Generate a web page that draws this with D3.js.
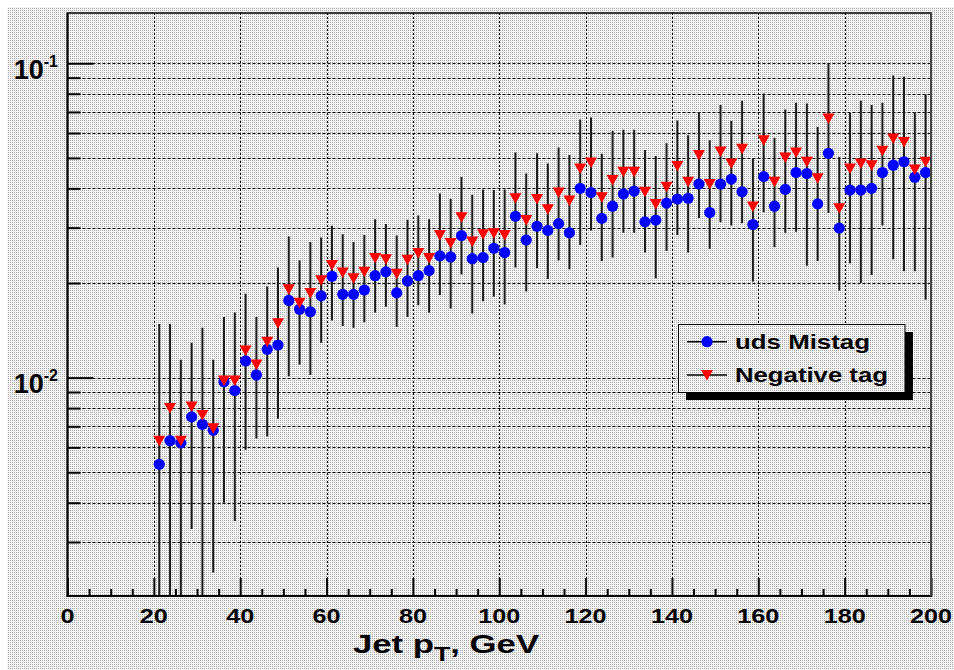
<!DOCTYPE html>
<html><head><meta charset="utf-8">
<script src="https://cdn.jsdelivr.net/npm/d3@7"></script>
<style>body{margin:0;background:#fff}text{font-family:"Liberation Sans",Arial,Helvetica,sans-serif;font-weight:bold}</style>
</head><body>
<svg id="c" width="954" height="670"></svg>
<script>
// ---- data ----
const ptBins = [21.25,23.75,26.25,28.75,31.25,33.75,36.25,38.75,41.25,43.75,46.25,48.75,
  51.25,53.75,56.25,58.75,61.25,63.75,66.25,68.75,71.25,73.75,76.25,78.75,
  81.25,83.75,86.25,88.75,91.25,93.75,96.25,98.75,101.25,103.75,106.25,108.75,
  111.25,113.75,116.25,118.75,121.25,123.75,126.25,128.75,131.25,133.75,136.25,138.75,
  141.25,143.75,146.25,148.75,151.25,153.75,156.25,158.75,161.25,163.75,166.25,168.75,
  171.25,173.75,176.25,178.75,181.25,183.75,186.25,188.75,191.25,193.75,196.25,198.75];
const udsMistag = [0.0053,0.0063,0.0062,0.0075,0.0071,0.0068,0.0097,0.0091,0.0113,0.0102,0.0123,0.0127,
  0.0176,0.0165,0.0162,0.0182,0.0210,0.0184,0.0184,0.0190,0.0211,0.0217,0.0186,0.0203,
  0.0211,0.0219,0.0244,0.0242,0.0283,0.0239,0.0241,0.0258,0.0250,0.0326,0.0274,0.0303,
  0.0294,0.0309,0.0289,0.0400,0.0388,0.0321,0.0351,0.0384,0.0392,0.0313,0.0317,0.0359,
  0.0370,0.0372,0.0413,0.0335,0.0413,0.0428,0.0390,0.0307,0.0436,0.0351,0.0397,0.0449,
  0.0446,0.0357,0.0517,0.0299,0.0395,0.0395,0.0400,0.0449,0.0474,0.0486,0.0434,0.0449];
const negativeTag = [0.0063,0.0080,0.0063,0.0081,0.0076,0.0069,0.0098,0.0098,0.0122,0.0110,0.0130,0.0149,
  0.0191,0.0173,0.0186,0.0204,0.0228,0.0216,0.0207,0.0217,0.0240,0.0238,0.0214,0.0237,
  0.0249,0.0240,0.0284,0.0268,0.0324,0.0271,0.0286,0.0288,0.0284,0.0372,0.0317,0.0370,
  0.0343,0.0388,0.0366,0.0463,0.0483,0.0375,0.0425,0.0452,0.0452,0.0390,0.0357,0.0405,
  0.0471,0.0420,0.0511,0.0413,0.0524,0.0480,0.0535,0.0350,0.0569,0.0420,0.0501,0.0520,
  0.0486,0.0431,0.0667,0.0346,0.0463,0.0480,0.0474,0.0527,0.0576,0.0562,0.0459,0.0486];
const negativeTagErr = [0.0085,0.0068,0.0051,0.0048,0.0068,0.0045,0.0058,0.0063,0.0063,0.0046,0.0065,0.0075,
  0.0090,0.0063,0.0084,0.0075,0.0076,0.0070,0.0063,0.0067,0.0079,0.0070,0.0069,0.0081,
  0.0079,0.0079,0.0101,0.0102,0.0111,0.0111,0.0111,0.0107,0.0113,0.0148,0.0129,0.0147,
  0.0137,0.0152,0.0145,0.0199,0.0189,0.0140,0.0184,0.0163,0.0163,0.0140,0.0150,0.0152,
  0.0187,0.0170,0.0189,0.0156,0.0212,0.0175,0.0225,0.0148,0.0233,0.0160,0.0212,0.0229,
  0.0259,0.0196,0.0333,0.0157,0.0232,0.0280,0.0262,0.0222,0.0338,0.0344,0.0241,0.0309];
const xMajorTicks = [0,20,40,60,80,100,120,140,160,180,200];
const xMinorTicks = [5,10,15,25,30,35,45,50,55,65,70,75,85,90,95,105,110,115,125,130,135,145,150,155,165,170,175,185,190,195];
const yMajorTicks = [0.01,0.1];
const yMajorExp = ["-2","-1"];
const yMinorTicks = [0.003,0.004,0.005,0.006,0.007,0.008,0.009,0.02,0.03,0.04,0.05,0.06,0.07,0.08,0.09];
const xDomain = [0,200];
const yDomain = [0.00202,0.1445];
const legendLabels = ["uds Mistag","Negative tag"];

// ---- layout ----
const L=67.5, R=931, T=13, B=596;
const svg = d3.select("#c");
const defs = svg.append("defs");
const pat = defs.append("pattern").attr("id","stip").attr("width",2).attr("height",2).attr("patternUnits","userSpaceOnUse");
pat.append("rect").attr("width",2).attr("height",2).attr("fill","#f6f6f6");
pat.append("rect").attr("width",1).attr("height",1).attr("fill","#a8a8a8");
defs.append("clipPath").attr("id","clip").append("rect").attr("x",L).attr("y",T).attr("width",R-L).attr("height",B-T);

svg.append("rect").attr("x",7).attr("y",7).attr("width",947).attr("height",663).attr("fill","url(#stip)");

const x = d3.scaleLinear(xDomain,[L,R]);
const y = d3.scaleLog(yDomain,[B,T]);

// grid
const grid = svg.append("g").attr("stroke","#000").attr("stroke-width",1).attr("fill","none");
grid.selectAll("line.h").data(yMajorTicks.concat(yMinorTicks)).join("line")
  .attr("x1",L).attr("x2",R).attr("y1",d=>Math.round(y(d))+0.5).attr("y2",d=>Math.round(y(d))+0.5)
  .attr("stroke-dasharray","3,2");
grid.selectAll("line.v").data(xMajorTicks.filter(d=>d>0&&d<200)).join("line")
  .attr("y1",T).attr("y2",B).attr("x1",d=>Math.round(x(d))+0.5).attr("x2",d=>Math.round(x(d))+0.5)
  .attr("stroke-dasharray","2,2");

// error bars for negative tag
const plot = svg.append("g").attr("clip-path","url(#clip)");
plot.append("g").attr("stroke","#1a1a1a").attr("stroke-width",2)
  .selectAll("line").data(ptBins).join("line")
  .attr("x1",d=>x(d)).attr("x2",d=>x(d))
  .attr("y1",(d,i)=>{const lo=negativeTag[i]-negativeTagErr[i]; return lo>0? y(lo) : B+20;})
  .attr("y2",(d,i)=>y(negativeTag[i]+negativeTagErr[i]));

// markers
plot.append("g").selectAll("circle").data(ptBins).join("circle")
  .attr("cx",d=>x(d)).attr("cy",(d,i)=>y(udsMistag[i])).attr("r",5.6).attr("fill","#0000ff");
const tri = "M-6,-5L6,-5L0,5.5Z";
plot.append("g").selectAll("path").data(ptBins).join("path")
  .attr("d",tri).attr("fill","#ff0000")
  .attr("transform",(d,i)=>`translate(${x(d)},${y(negativeTag[i])})`);

// axis ticks (inside)
const ax = svg.append("g");
ax.append("g").attr("transform",`translate(0,${B})`)
  .call(d3.axisBottom(x).tickValues(xMinorTicks).tickSize(-7).tickFormat(""))
  .call(g=>g.select(".domain").remove());
ax.append("g").attr("transform",`translate(0,${B})`)
  .call(d3.axisBottom(x).tickValues(xMajorTicks).tickSize(-18).tickFormat(""))
  .call(g=>g.select(".domain").remove());
ax.append("g").attr("transform",`translate(${L},0)`)
  .call(d3.axisLeft(y).tickValues(yMinorTicks).tickSize(-13).tickFormat(""))
  .call(g=>g.select(".domain").remove());
ax.append("g").attr("transform",`translate(${L},0)`)
  .call(d3.axisLeft(y).tickValues(yMajorTicks).tickSize(-26).tickFormat(""))
  .call(g=>g.select(".domain").remove());
ax.selectAll(".tick line").attr("stroke","#000").attr("stroke-width",2);

// frame
svg.append("rect").attr("x",L).attr("y",T).attr("width",R-L).attr("height",B-T)
  .attr("fill","none").attr("stroke","#000").attr("stroke-width",1.5);
svg.append("line").attr("x1",L).attr("x2",L).attr("y1",T).attr("y2",B+1).attr("stroke","#000").attr("stroke-width",2);
svg.append("line").attr("x1",L-1).attr("x2",R+1).attr("y1",B).attr("y2",B).attr("stroke","#000").attr("stroke-width",2);
svg.append("line").attr("x1",R).attr("x2",R).attr("y1",T).attr("y2",B).attr("stroke","#444").attr("stroke-width",2);

// x tick labels
svg.append("g").selectAll("g").data(xMajorTicks).join("g")
  .attr("transform",d=>`translate(${x(d)},622.5)`)
  .append("text").attr("text-anchor","middle").attr("font-size",21)
  .attr("transform","scale(1.2,1)").attr("fill","#000").text(d=>d);

// y tick labels
const yl = svg.append("g").selectAll("g").data(yMajorTicks).join("g")
  .attr("transform",d=>`translate(58,${y(d)+15.6})`);
const ylt = yl.append("text").attr("text-anchor","end").attr("fill","#000");
ylt.append("tspan").attr("font-size",27).text("10");
ylt.append("tspan").attr("font-size",16).attr("dy",-12).text((d,i)=>yMajorExp[i]);

// x title
const tg = svg.append("g").attr("transform","translate(353,653)");
const tt = tg.append("text").attr("font-size",26).attr("fill","#000");
tt.append("tspan").text("Jet p");
tt.append("tspan").attr("font-size",20).attr("dy",8).text("T");
tt.append("tspan").attr("dy",-8).text(", GeV");
const tw = tt.node().getBBox().width;
tt.attr("transform",`scale(${187/tw},1)`);

// legend
const lg = svg.append("g");
lg.append("rect").attr("x",686).attr("y",332).attr("width",227).attr("height",68).attr("fill","#000");
lg.append("rect").attr("x",678.5).attr("y",324.5).attr("width",226.5).attr("height",68).attr("fill","url(#stip)").attr("stroke","#000").attr("stroke-width",1);
const ly = [341.7,375];
lg.selectAll("line").data(ly).join("line").attr("x1",687).attr("x2",727).attr("y1",d=>d).attr("y2",d=>d).attr("stroke","#000").attr("stroke-width",1.5);
lg.append("circle").attr("cx",707).attr("cy",ly[0]).attr("r",5.6).attr("fill","#0000ff");
lg.append("path").attr("d",tri).attr("fill","#ff0000").attr("transform",`translate(707,${ly[1]})`);
const lw = [135,153];
[349,382.3].forEach((by,i)=>{
  const t = lg.append("g").attr("transform",`translate(735,${by})`).append("text").attr("font-size",20).attr("fill","#000").text(legendLabels[i]);
  const w = t.node().getBBox().width;
  t.attr("transform",`scale(${lw[i]/w},1)`);
});
</script>
</body></html>
